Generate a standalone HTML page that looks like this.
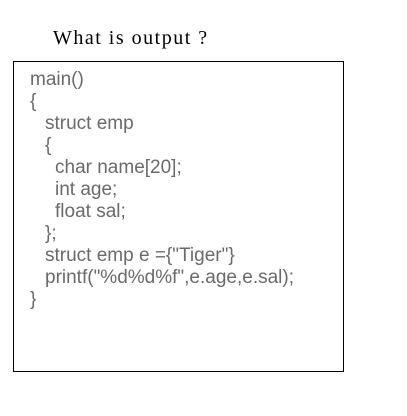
<!DOCTYPE html>
<html><head><style>
body{margin:0;width:407px;height:416px;background:#fff;position:relative;overflow:hidden}
.t{position:absolute;left:53px;top:27px;font-family:"Liberation Serif",serif;font-size:20px;letter-spacing:1.5px;color:#000;white-space:pre}
.box{position:absolute;left:13px;top:61px;width:329px;height:309px;border:1px solid #000}
.l{position:absolute;font-family:"Liberation Sans",sans-serif;font-size:19px;line-height:22px;color:#6a6a6a;white-space:pre;letter-spacing:0px}
</style></head><body>
<div class="t">What is output ?</div>
<div class="box"></div>
<div class="l" style="left:30px;top:69px">main()</div>
<div class="l" style="left:30px;top:91px">{</div>
<div class="l" style="left:45px;top:113px">struct emp</div>
<div class="l" style="left:45px;top:135px">{</div>
<div class="l" style="left:55px;top:157px">char name[20];</div>
<div class="l" style="left:55px;top:179px">int age;</div>
<div class="l" style="left:55px;top:201px">float sal;</div>
<div class="l" style="left:45px;top:223px">};</div>
<div class="l" style="left:45px;top:245px">struct emp e ={"Tiger"}</div>
<div class="l" style="left:45px;top:267px">printf("%d%d%f",e.age,e.sal);</div>
<div class="l" style="left:30px;top:289px">}</div>
</body></html>
